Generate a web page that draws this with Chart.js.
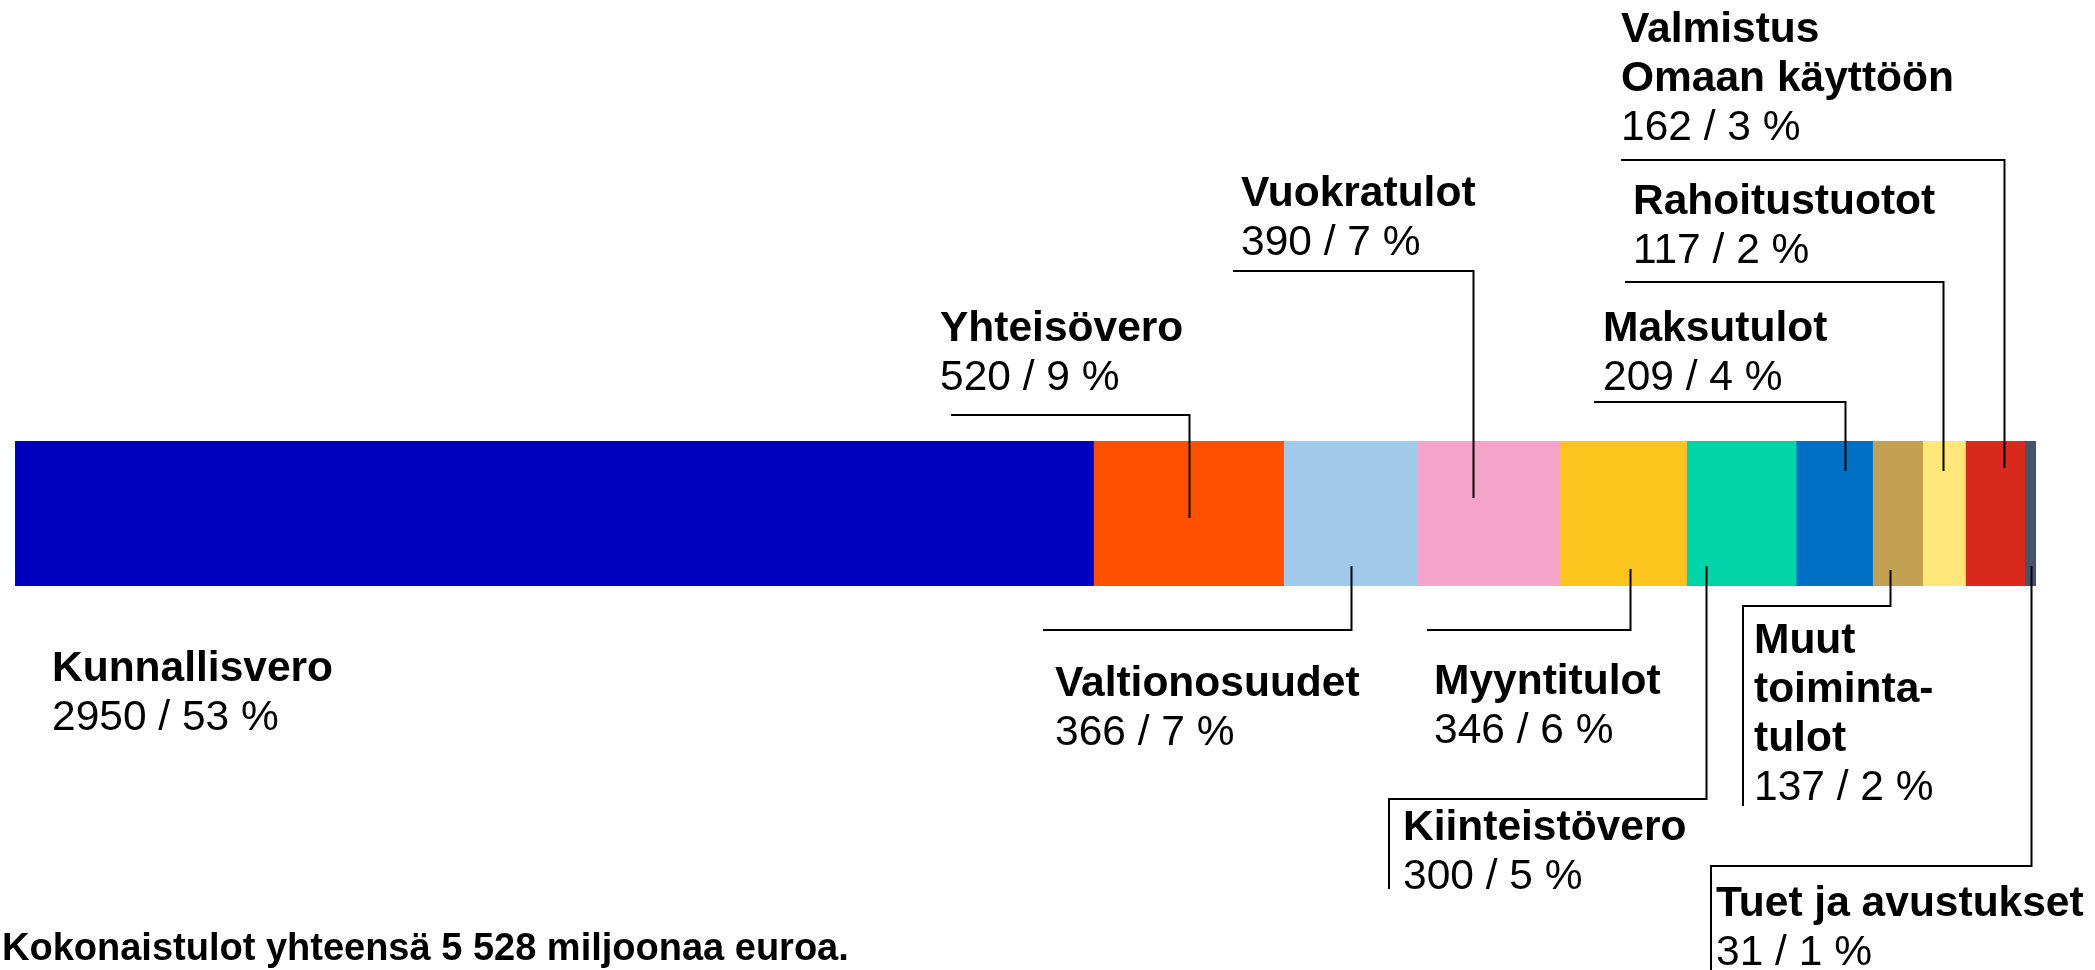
<!DOCTYPE html>
<html>
<head>
<meta charset="utf-8">
<style>
  body { margin: 0; background: #fff; }
  canvas { display: block; }
</style>
<script src="https://cdn.jsdelivr.net/npm/chart.js@4"></script>
</head>
<body>
<canvas id="tulot" width="2095" height="970"></canvas>
<script>
// data
const categories = ['Kunnallisvero', 'Yhteisövero', 'Valtionosuudet', 'Vuokratulot', 'Myyntitulot',
  'Kiinteistövero', 'Maksutulot', 'Muut toimintatulot', 'Rahoitustuotot',
  'Valmistus omaan käyttöön', 'Tuet ja avustukset'];
const values = [2950, 520, 366, 390, 346, 300, 209, 137, 117, 162, 31];
const shares = [53, 9, 7, 7, 6, 5, 4, 2, 2, 3, 1];
const labelLines = [
  ['Kunnallisvero'], ['Yhteisövero'], ['Valtionosuudet'], ['Vuokratulot'], ['Myyntitulot'],
  ['Kiinteistövero'], ['Maksutulot'], ['Muut', 'toiminta-', 'tulot'], ['Rahoitustuotot'],
  ['Valmistus', 'Omaan käyttöön'], ['Tuet ja avustukset']
];
const footnote = 'Kokonaistulot yhteensä 5 528 miljoonaa euroa.';

const colors = ['#0000BE', '#FF5000', '#A0C9EA', '#F4A4C9', '#FEC41E', '#00D4A8',
  '#0070C4', '#C4A152', '#FFE77A', '#D9281C', '#44546A'];

const total = values.reduce((a, b) => a + b, 0);

// where each label goes (frac = where the leader hits the bar)
// up: leader goes up from tip to elbow, then left to endX
// down: leader goes down from tip to elbow, left to endX, then optionally down to drop
const callouts = [
  { tx: 52, ty: 681 },
  { frac: 0.5, tip: 518, elbow: 415, endX: 951, tx: 940, ty: 341 },
  { frac: 0.5, tip: 566, elbow: 630, endX: 1043, tx: 1055, ty: 696 },
  { frac: 0.39, tip: 498, elbow: 271, endX: 1233, tx: 1241, ty: 206 },
  { frac: 0.55, tip: 569, elbow: 630, endX: 1427, tx: 1434, ty: 694 },
  { frac: 0.18, tip: 566, elbow: 799, endX: 1389, drop: 889, tx: 1403, ty: 840 },
  { frac: 0.64, tip: 471, elbow: 402, endX: 1594, tx: 1603, ty: 341 },
  { frac: 0.35, tip: 570, elbow: 606, endX: 1743, drop: 806, tx: 1754, ty: 653 },
  { frac: 0.47, tip: 471, elbow: 282, endX: 1625, tx: 1633, ty: 214 },
  { frac: 0.65, tip: 468, elbow: 160, endX: 1621, tx: 1621, ty: 42 },
  { frac: 0.56, tip: 566, elbow: 866, endX: 1711, drop: 970, tx: 1716, ty: 916 }
];

const lineH = 49;

const calloutPlugin = {
  id: 'callouts',
  afterDraw(chart) {
    const ctx = chart.ctx;
    ctx.save();
    ctx.strokeStyle = '#000';
    ctx.lineWidth = 2;
    ctx.fillStyle = '#000';
    ctx.textBaseline = 'alphabetic';
    ctx.textAlign = 'left';

    callouts.forEach((c, i) => {
      const bar = chart.getDatasetMeta(i).data[0];
      const left = Math.min(bar.base, bar.x);
      const right = Math.max(bar.base, bar.x);

      if (c.frac !== undefined) {
        const ax = Math.round(left + c.frac * (right - left)) + 0.5;
        ctx.beginPath();
        ctx.moveTo(ax, c.tip);
        ctx.lineTo(ax, c.elbow);
        ctx.lineTo(c.endX, c.elbow);
        if (c.drop !== undefined) ctx.lineTo(c.endX, c.drop);
        ctx.stroke();
      }

      let y = c.ty;
      ctx.font = 'bold 42.5px "Liberation Sans", Arial, sans-serif';
      labelLines[i].forEach(t => {
        ctx.fillText(t, c.tx, y);
        y += lineH;
      });
      ctx.font = '42.5px "Liberation Sans", Arial, sans-serif';
      ctx.fillText(values[i] + ' / ' + shares[i] + ' %', c.tx, y);
    });

    ctx.font = 'bold 38px "Liberation Sans", Arial, sans-serif';
    ctx.fillText(footnote, 2, 960);
    ctx.restore();
  }
};

new Chart(document.getElementById('tulot'), {
  type: 'bar',
  data: {
    labels: [''],
    datasets: categories.map((name, i) => ({
      label: name,
      data: [values[i]],
      backgroundColor: colors[i],
      borderWidth: 0,
      barPercentage: 1,
      categoryPercentage: 1
    }))
  },
  options: {
    indexAxis: 'y',
    responsive: false,
    animation: false,
    devicePixelRatio: 1,
    layout: { padding: { left: 15, right: 59, top: 441, bottom: 384 } },
    scales: {
      x: { stacked: true, display: false, min: 0, max: total },
      y: { stacked: true, display: false }
    },
    plugins: {
      legend: { display: false },
      tooltip: { enabled: false }
    }
  },
  plugins: [calloutPlugin]
});
</script>
</body>
</html>
